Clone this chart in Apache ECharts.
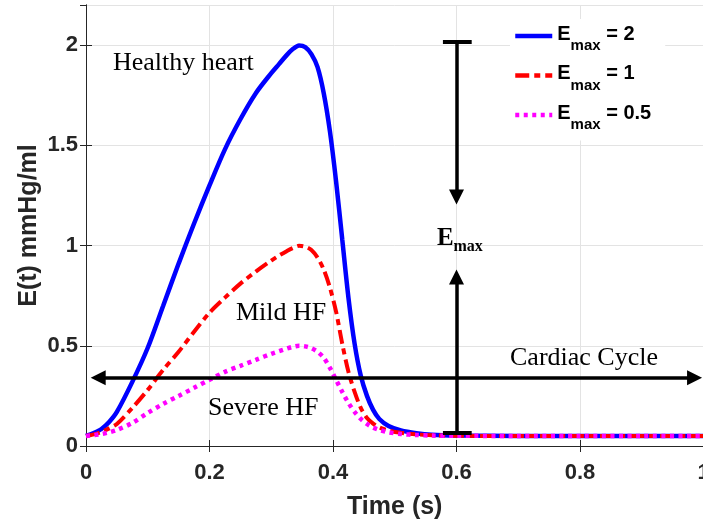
<!DOCTYPE html>
<html><head><meta charset="utf-8">
<script src="https://cdn.jsdelivr.net/npm/echarts@6/dist/echarts.min.js"></script>
<style>html,body{margin:0;padding:0;background:#fff}#c{width:703px;height:519px}</style>
</head><body><div id="c"></div>
<script>
// time points (s)
const times = [0, 0.0125, 0.025, 0.0375, 0.05, 0.075, 0.1, 0.125, 0.15, 0.175, 0.2, 0.225,
  0.25, 0.275, 0.3, 0.3125, 0.325, 0.335, 0.345, 0.355, 0.365, 0.375, 0.385, 0.395,
  0.405, 0.415, 0.425, 0.435, 0.445, 0.455, 0.465, 0.475, 0.49, 0.51,
  0.535, 0.56, 0.6, 0.7, 0.8, 0.9, 1.0];
// Emax = 2 (healthy heart)
const emax2 = [0.05, 0.065, 0.085, 0.12, 0.17, 0.32, 0.49, 0.70, 0.91, 1.11, 1.30, 1.48,
  1.63, 1.76, 1.86, 1.905, 1.95, 1.98, 1.998, 1.99, 1.955, 1.89, 1.76, 1.57,
  1.32, 1.03, 0.74, 0.51, 0.35, 0.25, 0.18, 0.135, 0.10, 0.078,
  0.064, 0.056, 0.052, 0.05, 0.05, 0.05, 0.05];
// Emax = 1 (mild HF)
const emax1 = [0.05, 0.058, 0.07, 0.088, 0.11, 0.19, 0.28, 0.38, 0.47, 0.57, 0.665, 0.74,
  0.81, 0.87, 0.925, 0.95, 0.972, 0.988, 0.999, 0.994, 0.978, 0.94, 0.88, 0.79,
  0.67, 0.51, 0.37, 0.27, 0.19, 0.14, 0.112, 0.093, 0.077, 0.066,
  0.058, 0.054, 0.051, 0.05, 0.05, 0.05, 0.05];
// Emax = 0.5 (severe HF)
const emax05 = [0.05, 0.054, 0.06, 0.068, 0.08, 0.115, 0.165, 0.21, 0.25, 0.29, 0.33, 0.37,
  0.40, 0.43, 0.46, 0.473, 0.486, 0.495, 0.5, 0.497, 0.488, 0.47, 0.44, 0.39,
  0.33, 0.27, 0.215, 0.17, 0.135, 0.11, 0.092, 0.08, 0.068, 0.06,
  0.055, 0.052, 0.051, 0.05, 0.05, 0.05, 0.05];
const seriesNames = ['Emax = 2', 'Emax = 1', 'Emax = 0.5'];
const xTicks = [0, 0.2, 0.4, 0.6, 0.8, 1];
const yTicks = [0, 0.5, 1, 1.5, 2];

const AX = '#262626';
const SANS = '"Liberation Sans", Arial, sans-serif';
const SERIF = '"Liberation Serif", "Times New Roman", serif';

const chart = echarts.init(document.getElementById('c'), null, {renderer: 'canvas'});
const pair = arr => times.map((t, i) => [t, arr[i]]);

const axisCommon = {
  axisLine: {show: true, lineStyle: {color: AX, width: 1}},
  axisTick: {show: true, inside: true, length: 6, lineStyle: {color: AX, width: 1}},
};

chart.setOption({
  animation: false,
  backgroundColor: '#fff',
  grid: {left: 86, right: -0.5, top: 5, bottom: 73, containLabel: false, outerBoundsMode: 'none'},
  xAxis: [
    Object.assign({
      type: 'value', min: 0, max: 1, interval: 0.2, position: 'bottom',
      name: 'Time (s)', nameLocation: 'middle', nameGap: 49, nameMoveOverlap: false,
      nameTextStyle: {fontFamily: SANS, fontWeight: 'bold', fontSize: 25, color: AX},
      axisLabel: {fontFamily: SANS, fontWeight: 'bold', fontSize: 22, color: AX, margin: 16,
        formatter: v => (xTicks.indexOf(+v.toFixed(2)) >= 0 ? String(+v.toFixed(2)) : '')},
      splitLine: {show: true, lineStyle: {color: '#e3e3e3', width: 1}}
    }, axisCommon),
    Object.assign({
      type: 'value', min: 0, max: 1, interval: 0.2, position: 'top',
      axisLabel: {show: false}, splitLine: {show: false}
    }, axisCommon)
  ],
  yAxis: [
    Object.assign({
      type: 'value', min: 0, max: 2.2, interval: 0.5, position: 'left',
      name: 'E(t) mmHg/ml', nameLocation: 'middle', nameGap: 44.5, nameMoveOverlap: false,
      nameTextStyle: {fontFamily: SANS, fontWeight: 'bold', fontSize: 25, color: AX},
      axisLabel: {fontFamily: SANS, fontWeight: 'bold', fontSize: 22, color: AX, margin: 8,
        showMaxLabel: false,
        formatter: v => (yTicks.indexOf(+v.toFixed(2)) >= 0 ? String(+v.toFixed(2)) : '')},
      splitLine: {show: true, lineStyle: {color: '#e3e3e3', width: 1}}
    }, axisCommon),
    Object.assign({
      type: 'value', min: 0, max: 2.2, interval: 0.5, position: 'right',
      axisLabel: {show: false}, splitLine: {show: false}
    }, axisCommon)
  ],
  legend: {
    data: seriesNames.map(n => ({name: n})),
    orient: 'vertical', left: 510, top: 19,
    backgroundColor: '#fff',
    padding: [5, 14, 8, 3],
    itemWidth: 37, itemHeight: 14, itemGap: 10,
    itemStyle: {opacity: 0, borderWidth: 0},
    lineStyle: {width: 4.5},
    formatter: name => '{e|E}{s|max}{e| = ' + name.split('= ')[1] + '}',
    textStyle: {
      rich: {
        e: {fontFamily: SANS, fontWeight: 'bold', fontSize: 20, color: '#000', padding: [0, 0, 4, 0]},
        s: {fontFamily: SANS, fontWeight: 'bold', fontSize: 15, color: '#000', padding: [20, 0, 0, 0]}
      }
    }
  },
  series: [
    {name: seriesNames[0], type: 'line', data: pair(emax2), symbol: 'none', smooth: 0.3,
      lineStyle: {color: '#0000ff', width: 4.5}, itemStyle: {color: '#0000ff'}},
    {name: seriesNames[1], type: 'line', data: pair(emax1), symbol: 'none', smooth: 0.3,
      lineStyle: {color: '#ff0000', width: 4, type: [14, 5, 6, 5]}, itemStyle: {color: '#ff0000'}},
    {name: seriesNames[2], type: 'line', data: pair(emax05), symbol: 'none', smooth: 0.3,
      lineStyle: {color: '#ff00ff', width: 4.5, type: [4, 4.5]}, itemStyle: {color: '#ff00ff'}},
    {name: 'annotations', type: 'line', data: [], symbol: 'none',
      markLine: {
        silent: true, animation: false, symbol: ['none', 'none'],
        label: {show: false},
        lineStyle: {color: '#000', width: 3.5, type: 'solid'},
        data: [
          [{coord: [0.0197, 0.34], symbol: 'triangle', symbolSize: [15, 15]},
           {coord: [0.9855, 0.34], symbol: 'triangle', symbolSize: [15, 15]}],
          [{coord: [0.6, 2.015]}, {coord: [0.6, 1.2425], symbol: 'triangle', symbolSize: [15, 15]}],
          [{coord: [0.6, 0.068]}, {coord: [0.6, 0.8425], symbol: 'triangle', symbolSize: [15, 15]}],
          [{coord: [0.578, 2.015], lineStyle: {width: 4}}, {coord: [0.6246, 2.015]}],
          [{coord: [0.578, 0.068], lineStyle: {width: 4}}, {coord: [0.6246, 0.068]}]
        ]
      }}
  ],
  graphic: [
    {type: 'text', x: 113, y: 63.5, z: 100, style: {text: 'Healthy heart', fontFamily: SERIF, fontSize: 26, fill: '#000', verticalAlign: 'middle'}},
    {type: 'text', x: 236, y: 313, z: 100, style: {text: 'Mild HF', fontFamily: SERIF, fontSize: 26, fill: '#000', verticalAlign: 'middle'}},
    {type: 'text', x: 208, y: 408.5, z: 100, style: {text: 'Severe HF', fontFamily: SERIF, fontSize: 26, fill: '#000', verticalAlign: 'middle'}},
    {type: 'text', x: 510, y: 358, z: 100, style: {text: 'Cardiac Cycle', fontFamily: SERIF, fontSize: 26, fill: '#000', verticalAlign: 'middle'}},
    {type: 'text', x: 437, y: 238.5, z: 100, style: {text: 'E', fontFamily: SERIF, fontWeight: 'bold', fontSize: 25, fill: '#000', verticalAlign: 'middle'}},
    {type: 'text', x: 453.5, y: 246.5, z: 100, style: {text: 'max', fontFamily: SERIF, fontWeight: 'bold', fontSize: 16, fill: '#000', verticalAlign: 'middle'}}
  ]
});
</script></body></html>
